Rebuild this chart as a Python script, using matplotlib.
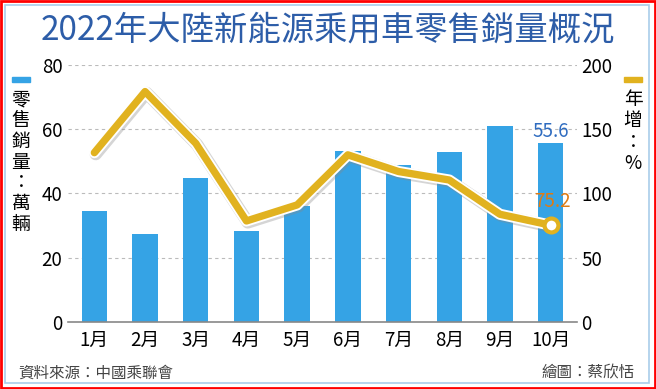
import matplotlib
matplotlib.use("Agg")
import matplotlib.pyplot as plt
import matplotlib.patheffects as pe
from matplotlib.patches import Rectangle

plt.rcParams["font.family"] = ["Noto Sans CJK TC", "DejaVu Sans"]

months = ["1月", "2月", "3月", "4月", "5月", "6月", "7月", "8月", "9月", "10月"]
sales = [34.6, 27.3, 44.7, 28.3, 36.0, 53.3, 48.8, 52.9, 61.0, 55.6]
growth = [131.7, 179.3, 139.0, 78.5, 91.0, 130.0, 117.0, 110.4, 83.7, 75.2]
left_ticks = [0, 20, 40, 60, 80]
right_ticks = [0, 50, 100, 150, 200]

BAR = "#35a3e5"
GOLD = "#e1b21f"
TITLE = "#2d5da8"

W, H = 656, 389
fig = plt.figure(figsize=(W / 100, H / 100), dpi=100)
ax = fig.add_axes([68 / W, (H - 321.7) / H, 509 / W, 256.7 / H])
ax2 = ax.twinx()

x = list(range(len(months)))
ax.bar(x, sales, width=0.5, color=BAR, zorder=2)
ax.set_ylim(0, 80)
ax.set_yticks(left_ticks)
ax.set_xlim(-0.52, 9.52)
ax.set_xticks(x)
ax.set_xticklabels(months)
ax.grid(axis="y", linestyle=(0, (3, 3)), color="#bbbbbb", linewidth=0.8, zorder=0)
for s in ["top", "left", "right"]:
    ax.spines[s].set_visible(False)
ax.spines["bottom"].set_color("#888888")
ax.spines["bottom"].set_linewidth(1.2)
ax.tick_params(length=0, labelsize=13.5, pad=6)
ax.tick_params(axis="y", pad=4)

ax2.plot(x, growth, color=GOLD, linewidth=5.3, solid_joinstyle="round", solid_capstyle="round", zorder=3,
         path_effects=[pe.SimpleLineShadow(offset=(1, -1), shadow_color="#888888", alpha=0.35, linewidth=9),
                       pe.Stroke(linewidth=8, foreground="white"), pe.Normal()])
ax2.plot([x[-1]], [growth[-1]], marker="o", markersize=10, markerfacecolor="white",
         markeredgecolor=GOLD, markeredgewidth=3, zorder=4)
ax2.set_ylim(0, 200)
ax2.set_yticks(right_ticks)
for s in ["top", "left", "right", "bottom"]:
    ax2.spines[s].set_visible(False)
ax2.tick_params(length=0, labelsize=13.5, pad=3)

ax.annotate(f"{sales[-1]}", (x[-1], sales[-1]), xytext=(0, 8.5), textcoords="offset points",
            color="#2f6cc0", fontsize=13.5, ha="center", va="center", zorder=5)
ax2.annotate(f"{growth[-1]}", (x[-1], growth[-1]), xytext=(1, 17), textcoords="offset points",
             color="#e07b12", fontsize=13.5, ha="center", va="center", zorder=5)

fig.text(328 / W, 1 - 30 / H, "2022年大陸新能源乘用車零售銷量概況", color=TITLE, fontsize=24,
         fontweight="medium", ha="center", va="center")

# left legend / unit
fig.add_artist(Rectangle((12 / W, 1 - 82 / H), 18 / W, 5 / H, color=BAR, transform=fig.transFigure))
fig.text(21 / W, 1 - 89 / H, "\n".join("零售銷量：萬輛"), fontsize=13.5, ha="center", va="top", linespacing=0.99)
# right legend / unit
fig.add_artist(Rectangle((624 / W, 1 - 82 / H), 18 / W, 5 / H, color=GOLD, transform=fig.transFigure))
fig.text(633 / W, 1 - 89 / H, "\n".join("年增：%"), fontsize=13.5, ha="center", va="top", linespacing=1.03)

fig.text(18 / W, 1 - 373 / H, "資料來源：中國乘聯會", fontsize=11.2, color="#444444", va="center")
fig.text(635 / W, 1 - 373 / H, "繪圖：蔡欣恬", fontsize=11.2, color="#444444", va="center", ha="right")

# frames
fig.add_artist(Rectangle((0.002, 0.003), 0.996, 0.994, fill=False, edgecolor="red", linewidth=2,
                         transform=fig.transFigure))
fig.add_artist(Rectangle((5 / W, 6 / H), 644 / W, 378 / H, fill=False, edgecolor="#a9cdea",
                         linewidth=1.2, transform=fig.transFigure))

fig.savefig("out.png", dpi=100)
